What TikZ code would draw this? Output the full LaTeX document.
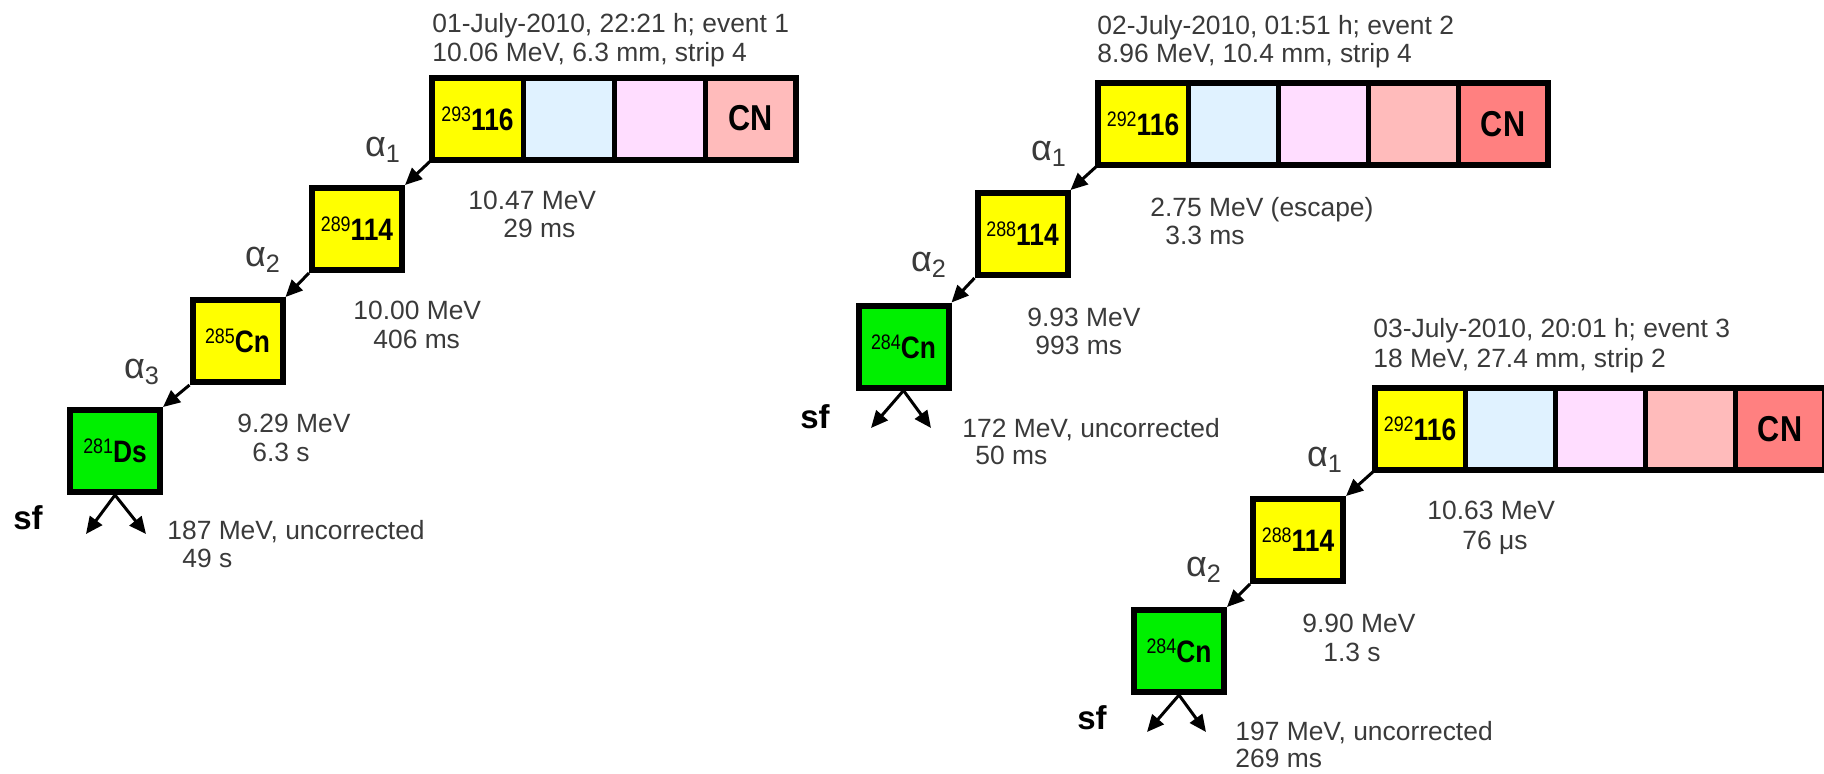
\documentclass[tikz,border=0pt]{standalone}
\usepackage{fontspec}
\setmainfont{Liberation Sans}
\usetikzlibrary{arrows.meta}
\definecolor{cyel}{HTML}{FFFF00}
\definecolor{cblue}{HTML}{E0F2FF}
\definecolor{cpink}{HTML}{FFDDFF}
\definecolor{csalmon}{HTML}{FFBBBB}
\definecolor{cred}{HTML}{FF8080}
\definecolor{cgreen}{HTML}{00F000}
\definecolor{txt}{HTML}{3A3A3A}
\newcommand{\nuc}[2]{\scalebox{0.85}[1]{\raisebox{0.45em}{\fontsize{10.5}{11}\selectfont #1}\fontsize{15.5}{16}\selectfont\bfseries #2}}
\newcommand{\cnlab}{\scalebox{0.85}[1]{\fontsize{18}{20}\selectfont\bfseries CN}}
\tikzset{
  cell/.style={draw=black, line width=2.5pt, minimum width=45pt, minimum height=41pt, inner sep=0pt, outer sep=0pt},
  frame/.style={draw=black, line width=3pt},
  chain/.style={draw=black, line width=3pt, minimum width=45pt, minimum height=41pt, inner sep=0pt},
  lbl/.style={text=txt, font=\fontsize{13.2}{15}\selectfont, anchor=west, inner sep=0pt, text height=9.5pt, text depth=0pt},
  alab/.style={text=txt, font=\fontsize{18}{20}\selectfont, inner sep=0pt},
  sflab/.style={text=black, font=\fontsize{16.5}{18}\selectfont\bfseries, inner sep=0pt},
  arr/.style={line width=1.5pt, -{Triangle[length=8.5pt,width=7.5pt]}},
}
\begin{document}
\begin{tikzpicture}[x=0.5pt, y=-0.5pt]
\useasboundingbox (0,0) rectangle (1824,773);
\clip (0,0) rectangle (1824,773);
% ---------------- event 1
\node[lbl] (h1a) at (432,23) {01-July-2010, 22:21 h; event 1};
\node[lbl] (h1b) at (432,52) {10.06 MeV, 6.3 mm, strip 4};
\node[cell, minimum width=45.5pt, fill=cyel] (a1) at (477.5,118.5) {\nuc{293}{116}};
\node[cell, minimum width=45.5pt, fill=cblue] (a2) at (568.5,118.5) {};
\node[cell, minimum width=45.5pt, fill=cpink] (a3) at (659.5,118.5) {};
\node[cell, minimum width=45.5pt, fill=csalmon] (a4) at (750.5,118.5) {\cnlab};
\draw[frame] (a1.north west) rectangle (a4.south east);
\node[chain, fill=cyel] (b1) at (357,229) {\nuc{289}{114}};
\node[chain, fill=cyel] (b2) at (237.5,341) {\nuc{285}{Cn}};
\node[chain, fill=cgreen] (b3) at (115,451) {\nuc{281}{Ds}};
\draw[arr] (a1.south west) -- (b1.north east);
\draw[arr] (b1.south west) -- (b2.north east);
\draw[arr] (b2.south west) -- (b3.north east);
\node[alab] (al11) at (383,150) {α\textsubscript{1}};
\node[alab] (al12) at (263,260) {α\textsubscript{2}};
\node[alab] (al13) at (142,372) {α\textsubscript{3}};
\node[lbl] (e11) at (468,200) {10.47 MeV};
\node[lbl] (t11) at (503,228) {29 ms};
\node[lbl] (e12) at (353,310) {10.00 MeV};
\node[lbl] (t12) at (373,339) {406 ms};
\node[lbl] (e13) at (237,423) {9.29 MeV};
\node[lbl] (t13) at (252,452) {6.3 s};
\node[sflab] (sf1) at (28,518) {sf};
\coordinate (f1l) at (86,534);
\coordinate (f1r) at (146,534);
\draw[arr] (b3.south) -- (f1l);
\draw[arr] (b3.south) -- (f1r);
\node[lbl] (e14) at (167,530) {187 MeV, uncorrected};
\node[lbl] (t14) at (182,558) {49 s};
% ---------------- event 2
\node[lbl] (h2a) at (1097,25) {02-July-2010, 01:51 h; event 2};
\node[lbl] (h2b) at (1097,53) {8.96 MeV, 10.4 mm, strip 4};
\node[cell, fill=cyel] (c1) at (1143,124) {\nuc{292}{116}};
\node[cell, fill=cblue] (c2) at (1233,124) {};
\node[cell, fill=cpink] (c3) at (1323,124) {};
\node[cell, fill=csalmon] (c4) at (1413,124) {};
\node[cell, fill=cred] (c5) at (1503,124) {\cnlab};
\draw[frame] (c1.north west) rectangle (c5.south east);
\node[chain, fill=cyel] (d1) at (1022.5,234) {\nuc{288}{114}};
\node[chain, fill=cgreen] (d2) at (903.5,346.5) {\nuc{284}{Cn}};
\draw[arr] (c1.south west) -- (d1.north east);
\draw[arr] (d1.south west) -- (d2.north east);
\node[alab] (al21) at (1049,154) {α\textsubscript{1}};
\node[alab] (al22) at (929,265) {α\textsubscript{2}};
\node[lbl] (e21) at (1150,207) {2.75 MeV (escape)};
\node[lbl] (t21) at (1165,235) {3.3 ms};
\node[lbl] (e22) at (1027,317) {9.93 MeV};
\node[lbl] (t22) at (1035,345) {993 ms};
\node[sflab] (sf2) at (815,417) {sf};
\coordinate (f2l) at (871,428);
\coordinate (f2r) at (931,428);
\draw[arr] (d2.south) -- (f2l);
\draw[arr] (d2.south) -- (f2r);
\node[lbl] (e23) at (962,428) {172 MeV, uncorrected};
\node[lbl] (t23) at (975,455) {50 ms};
% ---------------- event 3
\node[lbl] (h3a) at (1373,328) {03-July-2010, 20:01 h; event 3};
\node[lbl] (h3b) at (1373,358) {18 MeV, 27.4 mm, strip 2};
\node[cell, fill=cyel] (g1) at (1420,429) {\nuc{292}{116}};
\node[cell, fill=cblue] (g2) at (1510,429) {};
\node[cell, fill=cpink] (g3) at (1600,429) {};
\node[cell, fill=csalmon] (g4) at (1690,429) {};
\node[cell, fill=cred] (g5) at (1780,429) {\cnlab};
\draw[frame] (g1.north west) rectangle (g5.south east);
\node[chain, fill=cyel] (k1) at (1298,540) {\nuc{288}{114}};
\node[chain, fill=cgreen] (k2) at (1179,651) {\nuc{284}{Cn}};
\draw[arr] (g1.south west) -- (k1.north east);
\draw[arr] (k1.south west) -- (k2.north east);
\node[alab] (al31) at (1325,460) {α\textsubscript{1}};
\node[alab] (al32) at (1204,570) {α\textsubscript{2}};
\node[lbl] (e31) at (1427,510) {10.63 MeV};
\node[lbl] (t31) at (1462,540) {76 μs};
\node[lbl] (e32) at (1302,623) {9.90 MeV};
\node[lbl] (t32) at (1323,652) {1.3 s};
\node[sflab] (sf3) at (1092,718) {sf};
\coordinate (f3l) at (1147,732);
\coordinate (f3r) at (1206,732);
\draw[arr] (k2.south) -- (f3l);
\draw[arr] (k2.south) -- (f3r);
\node[lbl] (e33) at (1235,731) {197 MeV, uncorrected};
\node[lbl] (t33) at (1235,758) {269 ms};
\end{tikzpicture}
\end{document}
